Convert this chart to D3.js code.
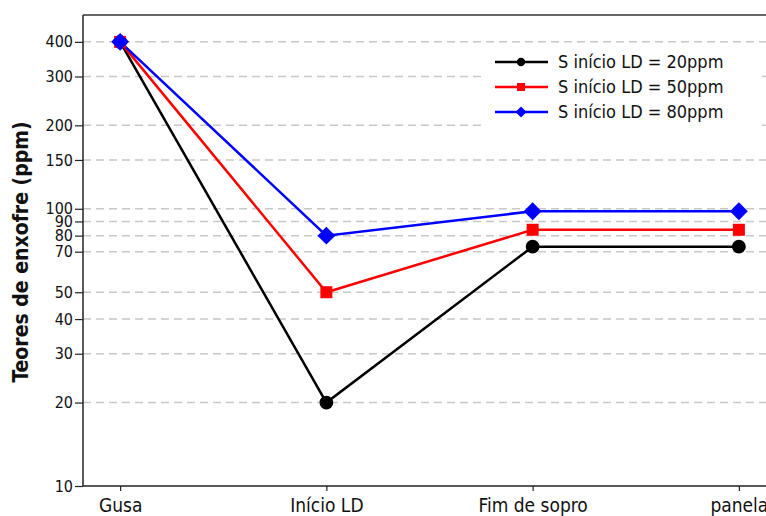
<!DOCTYPE html>
<html>
<head>
    <meta charset="utf-8">
    <title>Teores de enxofre</title>
    <script src="https://d3js.org/d3.v7.min.js"></script>
    <style>
        body { margin: 0; background: #fff; }
        text { font-family: "DejaVu Sans Condensed", "DejaVu Sans", sans-serif; fill: #111; }
    </style>
</head>
<body>
<div id="container"></div>
<script>
// Data
const etapas = ["Gusa", "Início LD", "Fim de sopro", "panela"]
const s20 = [400, 20, 73, 73]
const s50 = [400, 50, 84, 84]
const s80 = [400, 80, 98, 98]
const yTicks = [10, 20, 30, 40, 50, 70, 80, 90, 100, 150, 200, 300, 400]
const seriesNames = ["S início LD = 20ppm", "S início LD = 50ppm", "S início LD = 80ppm"]

const w = 766
const h = 516
const plotLeft = 83
const plotTop = 15
const plotBottom = 486

// square rotated 45deg gives the diamond used in the original
const series = [
    { name: seriesNames[0], values: s20, color: "#000000", symbol: d3.symbolCircle, size: 150, legendSize: 55, rot: 0 },
    { name: seriesNames[1], values: s50, color: "#ff0000", symbol: d3.symbolSquare, size: 144, legendSize: 64, rot: 0 },
    { name: seriesNames[2], values: s80, color: "#0000ff", symbol: d3.symbolSquare, size: 160, legendSize: 60, rot: 45 }
]

const svg = d3.select("#container")
    .append("svg")
    .attr("width", w)
    .attr("height", h)

// Scales
const xScale = d3.scalePoint()
    .domain(etapas)
    .range([plotLeft, 776])
    .padding(0.18)

const yScale = d3.scaleLog()
    .domain([10, 500])
    .range([plotBottom, plotTop])

// Gridlines
svg.append("g")
    .selectAll("line")
    .data(yTicks.filter(d => d > 10))
    .enter()
    .append("line")
    .attr("x1", plotLeft)
    .attr("x2", w)
    .attr("y1", d => yScale(d))
    .attr("y2", d => yScale(d))
    .attr("stroke", "#c8c8c8")
    .attr("stroke-width", 1.5)
    .attr("stroke-dasharray", "8,5")

// Top border
svg.append("line")
    .attr("x1", plotLeft)
    .attr("x2", w)
    .attr("y1", plotTop)
    .attr("y2", plotTop)
    .attr("stroke", "#333")
    .attr("stroke-width", 1.5)

// Axes
const xAxis = d3.axisBottom(xScale).tickSize(5).tickPadding(8)
const yAxis = d3.axisLeft(yScale)
    .tickValues(yTicks)
    .tickFormat(d3.format("d"))
    .tickSize(8)
    .tickPadding(2)

const gx = svg.append("g")
    .attr("transform", "translate(0," + plotBottom + ")")
    .call(xAxis)
gx.select(".domain").attr("d", "M" + plotLeft + ",0H" + w).attr("stroke", "#222").attr("stroke-width", 1.5)
gx.selectAll(".tick line").attr("stroke", "#222").attr("stroke-width", 1.2)
gx.selectAll("text").attr("font-size", 19).attr("font-family", null).attr("fill", "#111")

const gy = svg.append("g")
    .attr("transform", "translate(" + plotLeft + ",0)")
    .call(yAxis)
gy.select(".domain").attr("d", "M0," + plotTop + "V" + plotBottom).attr("stroke", "#222").attr("stroke-width", 1.5)
gy.selectAll(".tick line").attr("stroke", "#222").attr("stroke-width", 1.2)
gy.selectAll("text").attr("font-size", 16).attr("font-family", null).attr("fill", "#111")

// Y title
svg.append("text")
    .attr("transform", "translate(28," + 252 + ") rotate(-90)")
    .attr("text-anchor", "middle")
    .attr("font-family", "'DejaVu Sans', sans-serif")
    .attr("font-size", 21)
    .attr("font-weight", "bold")
    .text("Teores de enxofre (ppm)")

// Lines and markers
const line = d3.line()
    .x((d, i) => xScale(etapas[i]))
    .y(d => yScale(d))

series.forEach(s => {
    svg.append("path")
        .datum(s.values)
        .attr("d", line)
        .attr("fill", "none")
        .attr("stroke", s.color)
        .attr("stroke-width", 2.5)
})

series.forEach(s => {
    svg.append("g")
        .selectAll("path")
        .data(s.values)
        .enter()
        .append("path")
        .attr("d", d3.symbol().type(s.symbol).size(s.size))
        .attr("transform", (d, i) => "translate(" + xScale(etapas[i]) + "," + yScale(d) + ") rotate(" + s.rot + ")")
        .attr("fill", s.color)
})

// Legend
const legend = svg.append("g")
legend.append("rect")
    .attr("x", 486)
    .attr("y", 46)
    .attr("width", 276)
    .attr("height", 84)
    .attr("fill", "#fff")

series.forEach((s, i) => {
    const y = 62 + i * 25
    legend.append("line")
        .attr("x1", 495)
        .attr("x2", 548)
        .attr("y1", y)
        .attr("y2", y)
        .attr("stroke", s.color)
        .attr("stroke-width", 2.5)
    legend.append("path")
        .attr("d", d3.symbol().type(s.symbol).size(s.legendSize))
        .attr("transform", "translate(521," + y + ") rotate(" + s.rot + ")")
        .attr("fill", s.color)
    legend.append("text")
        .attr("x", 558)
        .attr("y", y)
        .attr("dy", "0.36em")
        .attr("font-size", 18)
        .text(s.name)
})
</script>
</body>
</html>
